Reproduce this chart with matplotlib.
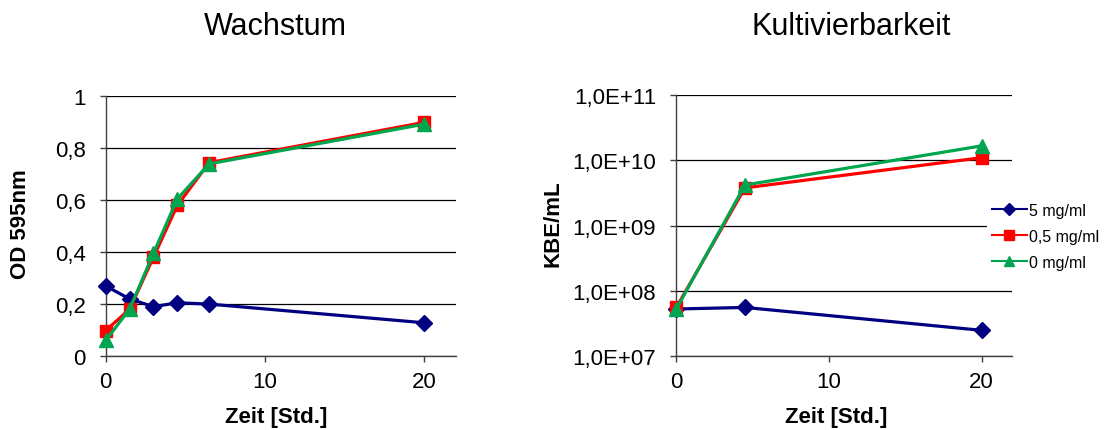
import math
import matplotlib
matplotlib.use("Agg")
import matplotlib.pyplot as plt
from matplotlib.ticker import FixedLocator, FuncFormatter, NullLocator

# Growth (OD 595 nm)
od_time = [0, 1.5, 3, 4.5, 6.5, 20]
od_5 = [0.27, 0.22, 0.19, 0.205, 0.20, 0.128]
od_05 = [0.098, 0.18, 0.38, 0.58, 0.745, 0.90]
od_0 = [0.06, 0.18, 0.395, 0.605, 0.74, 0.893]

# Culturability (CFU/mL)
cfu_time = [0, 4.5, 20]
cfu_5 = [5.3e7, 5.6e7, 2.5e7]
cfu_05 = [5.6e7, 3.8e9, 1.1e10]
cfu_0 = [5.3e7, 4.2e9, 1.67e10]

labels = ["5 mg/ml", "0,5 mg/ml", "0 mg/ml"]
colors = ["#000080", "#FF0000", "#00A64F"]
markers = ["D", "s", "^"]
msizes = [8, 8.5, 9.5]

plt.rcParams["font.family"] = ["Liberation Sans", "DejaVu Sans"]

W, H = 1104, 431
fig = plt.figure(figsize=(W / 100, H / 100), dpi=100)
ax1 = fig.add_axes([0.0957, 0.1717, 0.3173, 0.6023])
ax2 = fig.add_axes([0.6126, 0.1710, 0.3041, 0.6060])


def fx(px):
    return px / W


def fy(py):
    return 1 - py / H


def style_axes(ax):
    for s in ("top", "right"):
        ax.spines[s].set_visible(False)
    for s in ("left", "bottom"):
        ax.spines[s].set_color("#404040")
        ax.spines[s].set_linewidth(1.0)
    ax.yaxis.grid(True, color="#000000", linewidth=0.9)
    ax.set_axisbelow(True)
    ax.tick_params(axis="both", direction="out", length=4.5, width=1,
                   color="#404040", labelsize=16)
    ax.tick_params(axis="y", pad=10)
    ax.tick_params(axis="x", pad=6)
    ax.set_xlim(0, 22)
    ax.set_xticks([0, 10, 20])


# Left: growth
for y, c, m, ms, lab in zip([od_5, od_05, od_0], colors, markers, msizes, labels):
    ax1.plot(od_time, y, color=c, marker=m, markersize=ms, linewidth=2.3,
             label=lab, clip_on=False, zorder=3)
style_axes(ax1)
ax1.set_ylim(0, 1)
ax1.yaxis.set_major_locator(FixedLocator([0, 0.2, 0.4, 0.6, 0.8, 1.0]))
ax1.yaxis.set_major_formatter(FuncFormatter(
    lambda v, p: ("%g" % round(v, 1)).replace(".", ",")))

# Right: culturability
for y, c, m, ms, lab in zip([cfu_5, cfu_05, cfu_0], colors, markers, msizes, labels):
    ax2.plot(cfu_time, y, color=c, marker=m, markersize=ms, linewidth=2.3,
             label=lab, clip_on=False, zorder=3)
style_axes(ax2)
ax2.set_yscale("log")
ax2.set_ylim(1e7, 1e11)
ax2.yaxis.set_major_locator(FixedLocator([1e7, 1e8, 1e9, 1e10, 1e11]))
ax2.yaxis.set_minor_locator(NullLocator())
ax2.yaxis.set_major_formatter(FuncFormatter(
    lambda v, p: "1,0E+%02d" % round(math.log10(v))))

# Titles and axis labels
fig.text(fx(275), fy(35), "Wachstum", fontsize=22, ha="center", va="baseline")
fig.text(fx(851), fy(35), "Kultivierbarkeit", fontsize=22, ha="center", va="baseline")
fig.text(fx(276), fy(418), "Zeit [Std.]", fontsize=16, fontweight="bold",
         ha="center", va="center")
fig.text(fx(836), fy(418), "Zeit [Std.]", fontsize=16, fontweight="bold",
         ha="center", va="center")
fig.text(fx(21), fy(224), "OD 595nm", fontsize=16, fontweight="bold",
         rotation=90, ha="center", va="center")
fig.text(fx(553), fy(224), "KBE/mL", fontsize=16, fontweight="bold",
         rotation=90, ha="center", va="center")

handles = []
for c, m, lab in zip(colors, markers, labels):
    h, = ax2.plot([], [], color=c, marker=m, markersize=6.5, linewidth=1.5, label=lab)
    handles.append(h)
leg = fig.legend(handles=handles, labels=labels, loc="upper left",
                 bbox_to_anchor=(fx(987), fy(199)), frameon=True, fontsize=11.5,
                 handlelength=2.2, handletextpad=0.12, labelspacing=0.69,
                 borderpad=0.3, borderaxespad=0)
leg.get_frame().set_edgecolor("none")
leg.get_frame().set_facecolor("white")
leg.get_frame().set_alpha(1)

fig.savefig("out.png", dpi=100)
